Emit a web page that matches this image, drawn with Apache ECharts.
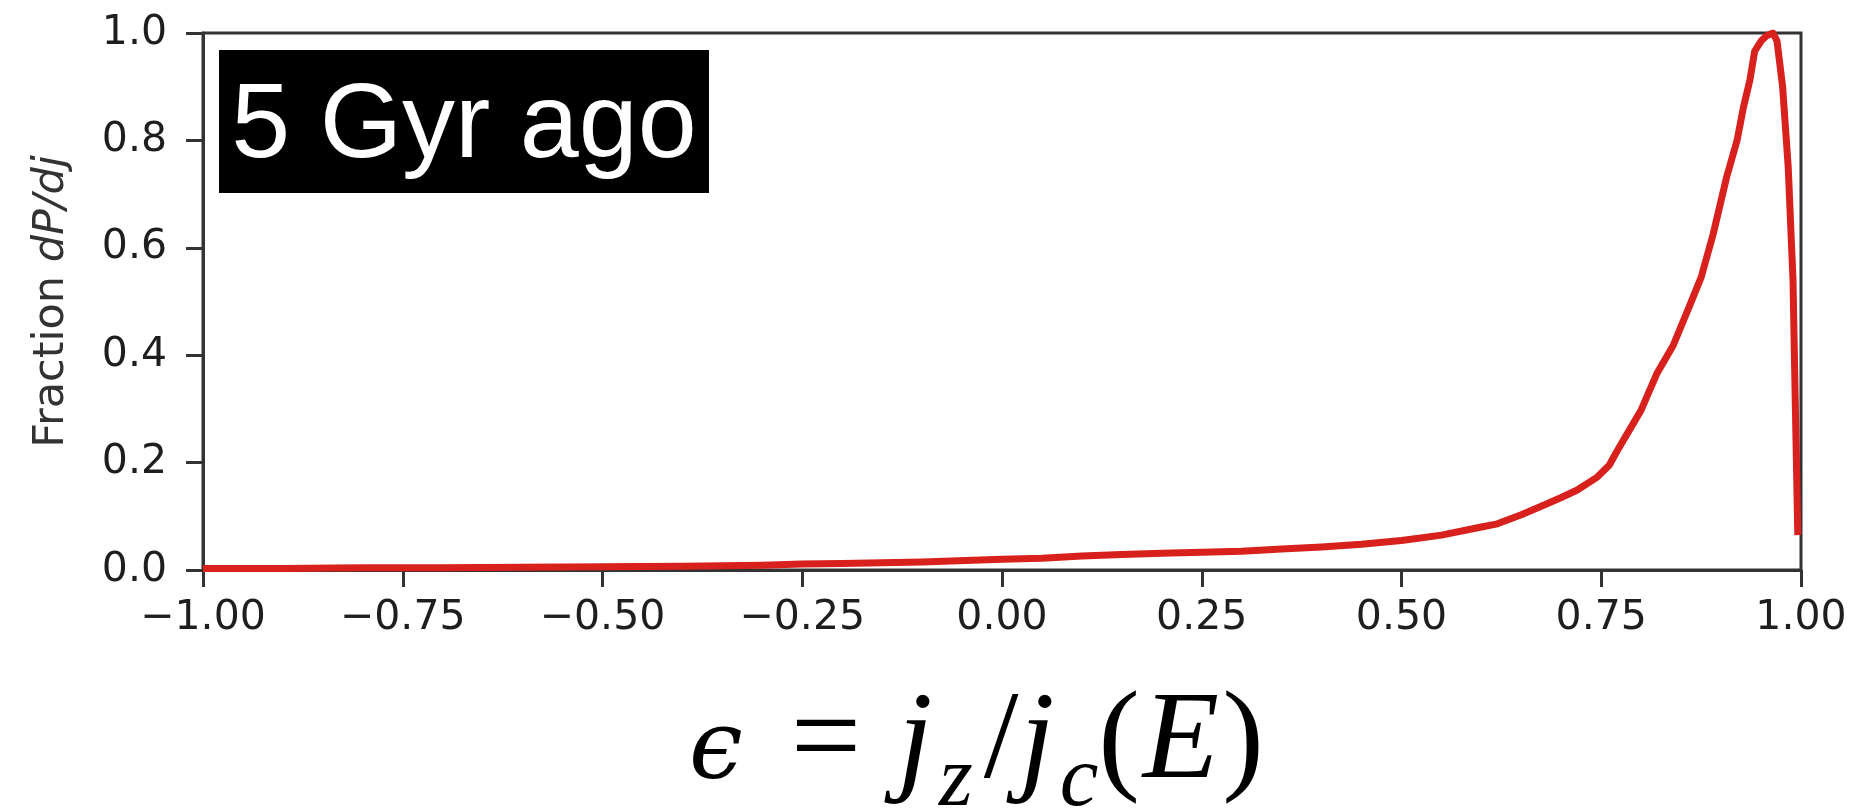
<!DOCTYPE html>
<html>
<head>
<meta charset="utf-8">
<script src="https://cdn.jsdelivr.net/npm/echarts@6/dist/echarts.min.js"></script>
<style>
html,body{margin:0;padding:0;background:#ffffff;}
#chart{width:1854px;height:810px;}
</style>
</head>
<body>
<div id="chart"></div>
<script>
// ---- data ----
const epsilon = [-1.00,-0.90,-0.80,-0.70,-0.60,-0.50,-0.40,-0.30,-0.25,-0.20,-0.10,0.00,0.05,0.10,0.15,0.20,0.25,0.30,0.35,0.40,0.45,0.50,0.55,0.60,0.62,0.65,0.68,0.70,0.72,0.745,0.76,0.77,0.785,0.80,0.82,0.84,0.86,0.875,0.89,0.907,0.92,0.928,0.936,0.942,0.95,0.957,0.965,0.970,0.977,0.984,0.990,0.993,0.996];
const fraction = [0.003,0.003,0.004,0.004,0.005,0.006,0.007,0.009,0.011,0.012,0.015,0.020,0.022,0.026,0.029,0.031,0.033,0.035,0.039,0.043,0.048,0.055,0.065,0.080,0.086,0.103,0.122,0.135,0.149,0.173,0.195,0.222,0.260,0.298,0.367,0.418,0.490,0.545,0.625,0.732,0.800,0.862,0.912,0.966,0.985,0.995,1.000,0.985,0.900,0.750,0.540,0.300,0.065];

const xTickValues = [-1.00,-0.75,-0.50,-0.25,0.00,0.25,0.50,0.75,1.00];
const xTickLabels = ['\u22121.00','\u22120.75','\u22120.50','\u22120.25','0.00','0.25','0.50','0.75','1.00'];
const yTickValues = [0.0,0.2,0.4,0.6,0.8,1.0];
const yTickLabels = ['0.0','0.2','0.4','0.6','0.8','1.0'];

const panelLabel = '5 Gyr ago';
const yAxisTitle = ['Fraction ', 'dP/dj'];
// x-axis formula  ϵ = j_z / j_c(E), split into its glyphs (main / subscript)
const formulaGlyphs = ['\u03f5', '=', 'j', 'z', '/', 'j', 'c', '(', 'E', ')'];

function lookup(values, labels, v) {
  for (let i = 0; i < values.length; i++) {
    if (Math.abs(values[i] - v) < 1e-6) return labels[i];
  }
  return '';
}

const chart = echarts.init(document.getElementById('chart'), null, {renderer: 'canvas'});
const axisColor = '#333333';
const tickFont = {fontSize: 41, fontFamily: 'DejaVu Sans', color: '#1e1e1e'};

// glyph styling for the formula (centre x in px, font, role)
const serifIt = 'italic 125px "Liberation Serif", serif';
const serifUp = '125px "Liberation Serif", serif';
const subIt = 'italic 87px "Liberation Serif", serif';
const glyphLayout = [
  {cx: 716, font: 'italic 96px "DejaVu Serif", "Liberation Serif", serif', cy: 753},
  {cx: 826, font: serifUp, cy: 744},
  {cx: 915, font: serifIt, cy: 744},
  {cx: 956, font: subIt, cy: 782},
  {cx: 1001, font: serifUp, cy: 744},
  {cx: 1037, font: serifIt, cy: 744},
  {cx: 1079, font: subIt, cy: 782},
  {cx: 1119, font: serifUp, cy: 744},
  {cx: 1181, font: serifIt, cy: 744},
  {cx: 1243, font: serifUp, cy: 744}
];
const formulaGraphics = formulaGlyphs.map((g, i) => ({
  type: 'text', z: 11,
  style: {
    x: glyphLayout[i].cx, y: glyphLayout[i].cy, text: g,
    font: glyphLayout[i].font, fill: '#000000',
    align: 'center', verticalAlign: 'middle'
  }
}));

const option = {
  animation: false,
  backgroundColor: '#ffffff',
  grid: {
    left: 203, right: 53, top: 33, bottom: 240,
    show: true, borderColor: axisColor, borderWidth: 3, backgroundColor: 'transparent'
  },
  xAxis: {
    type: 'value', min: -1, max: 1, interval: 0.25,
    axisLine: {show: true, onZero: false, lineStyle: {color: axisColor, width: 3}},
    axisTick: {show: true, inside: false, length: 17, lineStyle: {color: axisColor, width: 3}},
    axisLabel: Object.assign({margin: 28, formatter: v => lookup(xTickValues, xTickLabels, v)}, tickFont),
    splitLine: {show: false}
  },
  yAxis: {
    type: 'value', min: 0, max: 1, interval: 0.2,
    axisLine: {show: true, onZero: false, lineStyle: {color: axisColor, width: 3}},
    axisTick: {show: true, inside: false, length: 17, lineStyle: {color: axisColor, width: 3}},
    axisLabel: Object.assign({margin: 36, formatter: v => lookup(yTickValues, yTickLabels, v)}, tickFont),
    splitLine: {show: false},
    name: '{n|' + yAxisTitle[0] + '}{i|' + yAxisTitle[1] + '}',
    nameLocation: 'middle',
    nameRotate: 90,
    nameGap: 130,
    nameTextStyle: {
      rich: {
        n: {fontSize: 43, fontFamily: 'DejaVu Sans', color: '#333333'},
        i: {fontSize: 43, fontFamily: 'DejaVu Sans', fontStyle: 'italic', color: '#333333'}
      }
    }
  },
  series: [{
    type: 'line',
    data: epsilon.map((e, i) => [e, fraction[i]]),
    symbol: 'none',
    showSymbol: false,
    clip: true,
    lineStyle: {color: '#d8201c', width: 7, join: 'round'},
    z: 3
  }],
  graphic: [
    {
      type: 'rect', left: 219, top: 50, z: 10,
      shape: {width: 490, height: 143},
      style: {fill: '#000000'}
    },
    {
      type: 'text', z: 11,
      style: {
        x: 464, y: 128, text: panelLabel,
        fill: '#ffffff', font: '106px "Liberation Sans", Arial, sans-serif',
        align: 'center', verticalAlign: 'middle'
      }
    }
  ].concat(formulaGraphics)
};
chart.setOption(option);
</script>
</body>
</html>
